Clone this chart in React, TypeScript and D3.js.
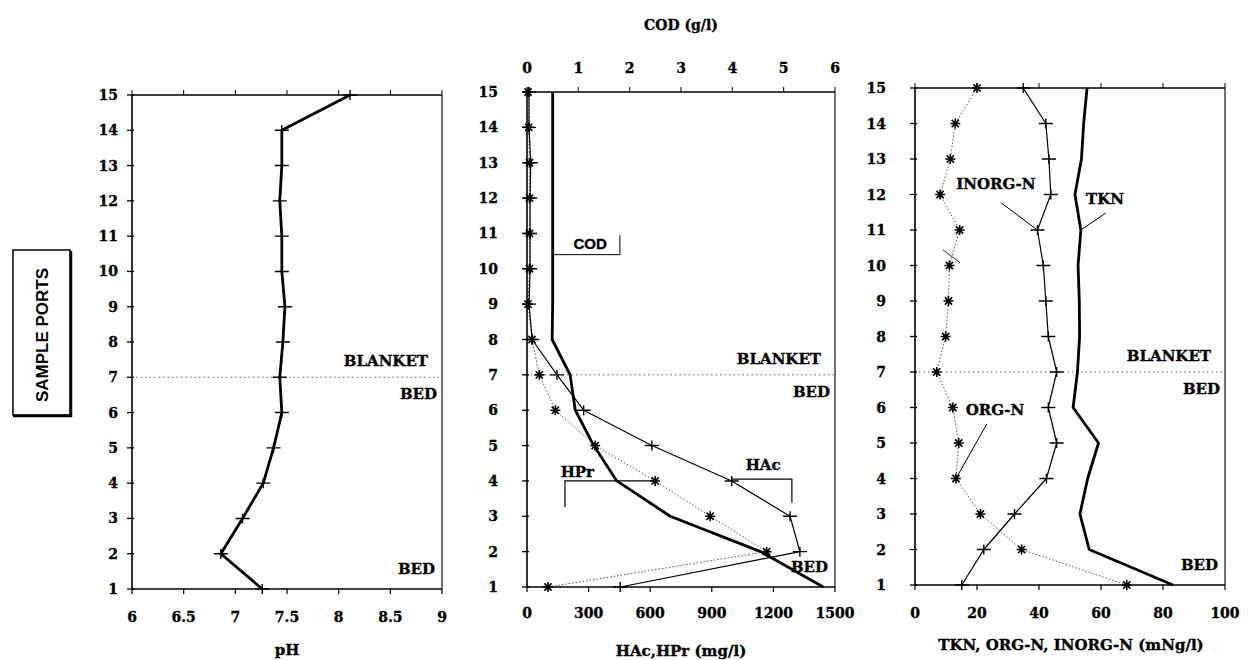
import * as d3 from 'd3';
import React, { useEffect, useRef } from 'react';

// sample ports, bottom (1) to top (15)
const ports = [1, 2, 3, 4, 5, 6, 7, 8, 9, 10, 11, 12, 13, 14, 15];

// left panel
const phValues = [7.26, 6.86, 7.07, 7.27, 7.37, 7.45, 7.43, 7.46, 7.48, 7.45, 7.45, 7.43, 7.45, 7.45, 8.11];
const phTicks = [6, 6.5, 7, 7.5, 8, 8.5, 9];

// middle panel
const hacValues = [454, 1329, 1281, 997, 608, 276, 146, 25, 10, 15, 15, 15, 18, 10, 10];
const hprValues = [102, 1167, 892, 624, 332, 138, 60, 24, 5, 12, 12, 12, 12, 8, 5];
const codValues = [5.77, 4.55, 2.79, 1.75, 1.3, 0.94, 0.84, 0.49, 0.5, 0.5, 0.5, 0.5, 0.5, 0.5, 0.5];
const acidTicks = [0, 300, 600, 900, 1200, 1500];
const codTicks = [0, 1, 2, 3, 4, 5, 6];

// right panel
const tknValues = [83.2, 56.2, 53.2, 55.7, 59.2, 51, 52.4, 53.1, 53, 52.6, 53.5, 51.6, 53.7, 54.4, 55.5];
const orgNValues = [68.3, 34.4, 21.1, 13.2, 14.1, 12.2, 7.0, 9.9, 10.8, 11.1, 14.4, 8.1, 11.4, 13, 20];
const inorgNValues = [15.1, 22.2, 32.1, 42.4, 45.7, 43, 45.7, 43, 42.2, 41.4, 39.5, 43.8, 43.2, 42.2, 34.9];
const nTicks = [0, 20, 40, 60, 80, 100];

const serif = '"DejaVu Serif", serif';
const sans = '"Liberation Sans", Arial, sans-serif';

function App() {
    const ref = useRef(null);

    useEffect(() => {
        const svg = d3.select(ref.current);
        svg.selectAll('*').remove();
        const g = svg.append('g');

        // bold text, slightly stroked so it looks as heavy as the scan
        const text = (x, y, s, size, anchor = 'middle', font = serif) =>
            g.append('text')
                .attr('x', x).attr('y', y)
                .attr('text-anchor', anchor)
                .attr('stroke', '#000')
                .attr('stroke-width', 0.35)
                .style('font-family', font)
                .style('font-weight', 'bold')
                .style('font-size', size + 'px')
                .text(s);

        const seg = (pts, w = 1.2) =>
            g.append('path')
                .attr('d', d3.line()(pts))
                .attr('fill', 'none')
                .attr('stroke', '#000')
                .attr('stroke-width', w);

        // frame + axes of one panel
        const panel = (x, y, bottomTicks, labelX, tickFmt, bottomLabelY, topTicks, topScale) => {
            const [x0, x1] = x.range();
            const [y0, y1] = y.range();
            seg([[x0, y0], [x1, y0]], 1.6);
            seg([[x0, y1], [x1, y1]], 1.4);
            seg([[x0, y0], [x0, y1]], 1.6);
            seg([[x1, y0], [x1, y1]], 1.1);
            ports.forEach(p => {
                seg([[x0 - 5, y(p)], [x0 + 2, y(p)]], 1.3);
                text(labelX, y(p) + 5, String(p), 14, 'end');
            });
            bottomTicks.forEach(t => {
                seg([[x(t), y0], [x(t), y0 + 5]], 1.2);
                text(x(t), bottomLabelY, tickFmt(t), 14);
            });
            const ts = topScale || x;
            (topTicks || bottomTicks).forEach(t => {
                seg([[ts(t), y1], [ts(t), y1 - 5]], 1);
            });
            // port 7 separation line
            g.append('line')
                .attr('x1', x0 + 4).attr('x2', x1)
                .attr('y1', y(7)).attr('y2', y(7))
                .attr('stroke', '#666')
                .attr('stroke-width', 1)
                .attr('stroke-dasharray', '1.5,3');
            text(x1 - 14, y(7) - 11, 'BLANKET', 15, 'end');
            text(x1 - 5, y(7) + 22, 'BED', 15, 'end');
            text(x1 - 7, y(1) - 15, 'BED', 15, 'end');
        };

        const series = (x, y, values, style, marker) => {
            const pts = values.map((v, i) => [x(v), y(ports[i])]);
            const path = g.append('path')
                .attr('d', d3.line()(pts))
                .attr('fill', 'none')
                .attr('stroke', style === 'dot' ? '#555' : '#000')
                .attr('stroke-width', style === 'thick' ? 2.8 : style === 'dot' ? 1 : 1.2)
                .attr('stroke-linejoin', 'round');
            if (style === 'dot') path.attr('stroke-dasharray', '1.5,2');
            pts.forEach(([px, py]) => {
                if (marker === 'plus') {
                    g.append('path')
                        .attr('d', `M${px - 7},${py}H${px + 7}M${px},${py - 5}V${py + 5}`)
                        .attr('stroke', '#000').attr('stroke-width', 1.4);
                } else if (marker === 'star') {
                    const r = 5;
                    const d = r * 0.72;
                    g.append('path')
                        .attr('d', `M${px - r},${py}H${px + r}M${px},${py - r}V${py + r}M${px - d},${py - d}L${px + d},${py + d}M${px - d},${py + d}L${px + d},${py - d}`)
                        .attr('stroke', '#000').attr('stroke-width', 1.6);
                }
            });
        };

        // ---- pH panel
        const xPh = d3.scaleLinear([6, 9], [132, 442]);
        const yL = d3.scaleLinear([1, 15], [589, 95]);
        panel(xPh, yL, phTicks, 118, d => String(d), 622);
        series(xPh, yL, phValues, 'thick', 'plus');
        text(287, 655, 'pH', 15);

        // ---- acids / COD panel
        const xAcid = d3.scaleLinear([0, 1500], [527, 835]);
        const xCod = d3.scaleLinear([0, 6], [527, 835]);
        const yM = d3.scaleLinear([1, 15], [587, 92]);
        panel(xAcid, yM, acidTicks, 498, d => String(d), 618, codTicks, xCod);
        codTicks.forEach(t => text(xCod(t), 73, String(t), 14));
        text(681, 30, 'COD  (g/l)', 14);
        series(xCod, yM, codValues, 'thick', null);
        series(xAcid, yM, hprValues, 'dot', 'star');
        series(xAcid, yM, hacValues, 'solid', 'plus');
        text(681, 656, 'HAc,HPr (mg/l)', 15);

        // annotations
        seg([[xCod(0.5), yM(10.4)], [xCod(1.81), yM(10.4)], [xCod(1.81), yM(10.95)]], 1);
        text(xCod(1.23), yM(10.55), 'COD', 15, 'middle', sans);
        seg([[xAcid(185), yM(3.26)], [xAcid(185), yM(4)], [xAcid(hprValues[3]), yM(4)]], 1.2);
        text(xAcid(245), yM(4.12), 'HPr', 15);
        seg([[xAcid(hacValues[3]), yM(4.05)], [xAcid(1290), yM(4.05)], [xAcid(1290), yM(3.38)]], 1.2);
        text(xAcid(1150), yM(4.32), 'HAc', 15);

        // ---- nitrogen panel
        const xN = d3.scaleLinear([0, 100], [915, 1225]);
        const yR = d3.scaleLinear([1, 15], [585, 88]);
        panel(xN, yR, nTicks, 886, d => String(d), 618);
        series(xN, yR, tknValues, 'thick', null);
        series(xN, yR, orgNValues, 'dot', 'star');
        series(xN, yR, inorgNValues, 'solid', 'plus');
        text(1071, 650, 'TKN, ORG-N, INORG-N (mNg/l)', 15);

        text(xN(26.1), yR(12.15), 'INORG-N', 15);
        seg([[xN(27.7), yR(11.77)], [xN(inorgNValues[10]), yR(11)]], 1);
        text(xN(61.3), yR(11.72), 'TKN', 15);
        seg([[xN(61.6), yR(11.48)], [xN(tknValues[10]), yR(11)]], 1);
        text(xN(25.8), yR(5.8), 'ORG-N', 15);
        seg([[xN(23.2), yR(5.54)], [xN(orgNValues[3]), yR(4)]], 1);
        seg([[xN(9.0), yR(10.44)], [xN(14.5), yR(10.08)]], 0.8);

        // ---- y axis label box
        g.append('rect')
            .attr('x', 13).attr('y', 250)
            .attr('width', 57).attr('height', 165)
            .attr('fill', 'none').attr('stroke', '#000').attr('stroke-width', 1.5);
        seg([[71, 251], [71, 416], [13, 416]], 2.5);
        g.append('text')
            .attr('transform', 'translate(48,335) rotate(-90)')
            .attr('text-anchor', 'middle')
            .style('font-family', sans)
            .style('font-weight', 'bold')
            .style('font-size', '17px')
            .text('SAMPLE PORTS');
    }, []);

    return (
        <svg ref={ref} width={1248} height={660}
            style={{ position: 'absolute', left: 0, top: 0, background: '#fff' }}></svg>
    );
}

export default App;
